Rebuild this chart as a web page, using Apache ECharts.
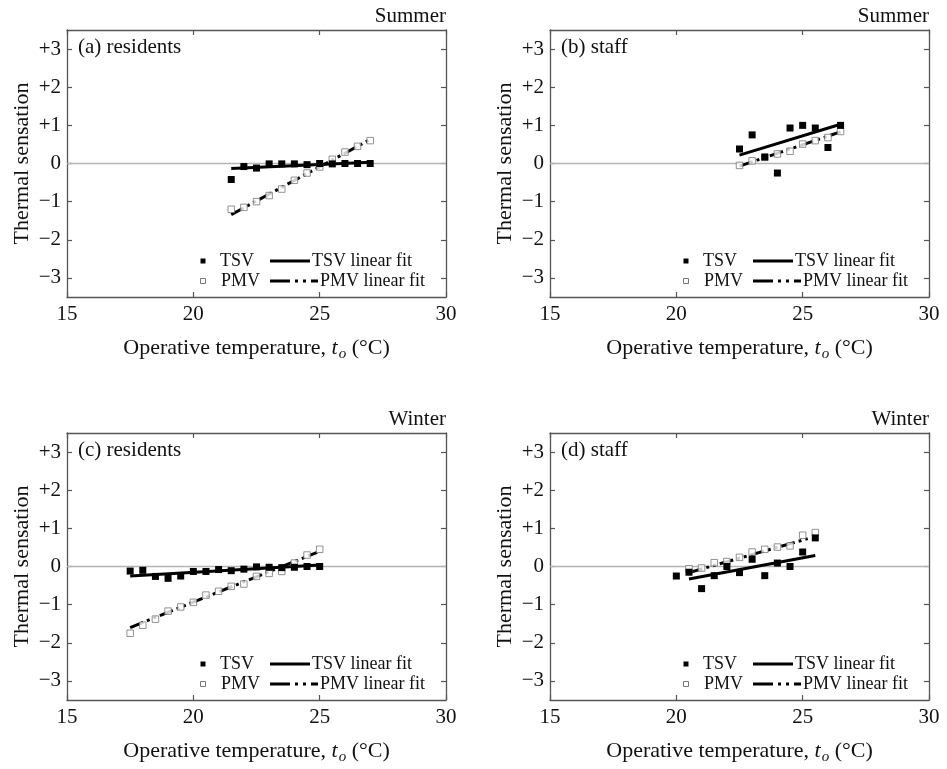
<!DOCTYPE html>
<html>
<head>
<meta charset="utf-8">
<script src="https://cdn.jsdelivr.net/npm/echarts@6/dist/echarts.min.js"></script>
<style>
  html, body { margin: 0; padding: 0; background: #fff; }
  #chart { width: 947px; height: 769px; }
</style>
</head>
<body>
<div id="chart"></div>
<script>
// ---- (a) residents, summer ----
const tempsA = [21.5, 22, 22.5, 23, 23.5, 24, 24.5, 25, 25.5, 26, 26.5, 27];
const tsvA = [-0.42, -0.08, -0.12, -0.01, -0.01, -0.01, -0.03, 0.0, -0.01, 0.0, 0.0, 0.0];
const pmvTempsA = [21.5, 22, 22.5, 23, 23.5, 24, 24.5, 25, 25.5, 26, 26.5, 27];
const pmvA = [-1.2, -1.15, -1.0, -0.84, -0.67, -0.44, -0.25, -0.09, 0.11, 0.30, 0.45, 0.60];
const tsvFitA = [[21.5, -0.13], [27, 0.03]];
const pmvFitA = [[21.5, -1.34], [27, 0.63]];

// ---- (b) staff, summer ----
const tempsB = [22.5, 23, 23.5, 24, 24.5, 25, 25.5, 26, 26.5];
const tsvB = [0.38, 0.75, 0.17, -0.25, 0.93, 1.0, 0.93, 0.42, 1.0];
const pmvTempsB = [22.5, 23, 23.5, 24, 24.5, 25, 25.5, 26, 26.5];
const pmvB = [-0.05, 0.07, 0.16, 0.25, 0.32, 0.51, 0.60, 0.68, 0.84];
const tsvFitB = [[22.5, 0.22], [26.5, 1.03]];
const pmvFitB = [[22.5, -0.07], [26.5, 0.83]];

// ---- (c) residents, winter ----
const tempsC = [17.5, 18, 18.5, 19, 19.5, 20, 20.5, 21, 21.5, 22, 22.5, 23, 23.5, 24, 24.5, 25];
const tsvC = [-0.12, -0.10, -0.26, -0.31, -0.25, -0.13, -0.13, -0.08, -0.11, -0.07, -0.01, -0.02, -0.03, -0.02, 0.0, 0.0];
const pmvTempsC = [17.5, 18, 18.5, 19, 19.5, 20, 20.5, 21, 21.5, 22, 22.5, 23, 23.5, 24, 24.5, 25];
const pmvC = [-1.75, -1.54, -1.38, -1.17, -1.06, -0.94, -0.75, -0.65, -0.52, -0.46, -0.26, -0.18, -0.13, 0.09, 0.30, 0.45];
const tsvFitC = [[17.5, -0.25], [25, 0.04]];
const pmvFitC = [[17.5, -1.6], [24.9, 0.37]];

// ---- (d) staff, winter ----
const tempsD = [20, 20.5, 21, 21.5, 22, 22.5, 23, 23.5, 24, 24.5, 25, 25.5];
const tsvD = [-0.25, -0.15, -0.58, -0.24, 0.0, -0.16, 0.19, -0.24, 0.09, 0.0, 0.38, 0.75];
const pmvTempsD = [20.5, 21, 21.5, 22, 22.5, 23, 23.5, 24, 24.5, 25, 25.5];
const pmvD = [-0.06, -0.04, 0.10, 0.13, 0.24, 0.38, 0.45, 0.51, 0.54, 0.82, 0.89];
const tsvFitD = [[20.5, -0.33], [25.5, 0.29]];
const pmvFitD = [[20.5, -0.16], [25.2, 0.73]];

// ---- axes ----
const xTicks = [15, 20, 25, 30];
const yTicks = [-3, -2, -1, 0, 1, 2, 3];

const panelLabels = ['(a) residents', '(b) staff', '(c) residents', '(d) staff'];
const seasons = ['Summer', 'Summer', 'Winter', 'Winter'];
const legendNames = ['TSV', 'PMV', 'TSV linear fit', 'PMV linear fit'];

const panels = [
  { temps: tempsA, tsv: tsvA, pmvTemps: pmvTempsA, pmv: pmvA, tsvFit: tsvFitA, pmvFit: pmvFitA },
  { temps: tempsB, tsv: tsvB, pmvTemps: pmvTempsB, pmv: pmvB, tsvFit: tsvFitB, pmvFit: pmvFitB },
  { temps: tempsC, tsv: tsvC, pmvTemps: pmvTempsC, pmv: pmvC, tsvFit: tsvFitC, pmvFit: pmvFitC },
  { temps: tempsD, tsv: tsvD, pmvTemps: pmvTempsD, pmv: pmvD, tsvFit: tsvFitD, pmvFit: pmvFitD }
];

const FONT = '"Liberation Serif", "Times New Roman", serif';
const FRAME = '#555';
const PW = 379, PH = 267;
const boxes = [
  { left: 67, top: 30 }, { left: 550, top: 30 },
  { left: 67, top: 433 }, { left: 550, top: 433 }
];
const DASH_DOT_DOT = [14, 4, 3, 4, 3, 4];

const zip = (xs, ys) => xs.map((x, i) => [x, ys[i]]);
const fmtY = v => v > 0 ? '+' + v : (v < 0 ? '\u2212' + Math.abs(v) : '0');

const grid = [], xAxis = [], yAxis = [], series = [], title = [], graphic = [];

boxes.forEach((b, i) => {
  grid.push({ left: b.left, top: b.top, width: PW, height: PH, containLabel: false });

  const lineCommon = { show: true, onZero: false, lineStyle: { color: FRAME, width: 1.3 } };
  const tickCommon = { show: true, inside: true, length: 5, lineStyle: { color: FRAME, width: 1.2 } };

  xAxis.push({
    type: 'value', gridIndex: i, position: 'bottom', min: 15, max: 30, interval: 5,
    axisLine: lineCommon, axisTick: tickCommon, splitLine: { show: false },
    axisLabel: { margin: 7, fontSize: 21, color: '#111', fontFamily: FONT },
    name: '{n|Operative temperature, }{i|t}{s|o}{n| (\u00b0C)}',
    nameLocation: 'middle', nameGap: 38,
    nameTextStyle: {
      color: '#111', fontFamily: FONT, fontSize: 22,
      rich: {
        n: { fontFamily: FONT, fontSize: 22, color: '#111' },
        i: { fontFamily: FONT, fontSize: 22, fontStyle: 'italic', color: '#111' },
        s: { fontFamily: FONT, fontSize: 15, fontStyle: 'italic', color: '#111', padding: [12, 0, 0, 1] }
      }
    }
  });
  xAxis.push({
    type: 'value', gridIndex: i, position: 'top', min: 15, max: 30, interval: 5,
    axisLine: lineCommon, axisTick: tickCommon, splitLine: { show: false },
    axisLabel: { show: false }
  });

  yAxis.push({
    type: 'value', gridIndex: i, position: 'left', min: -3.5, max: 3.5,
    axisLine: lineCommon,
    axisTick: Object.assign({ customValues: yTicks }, tickCommon),
    splitLine: { show: false },
    axisLabel: { customValues: yTicks, margin: 6, fontSize: 21, color: '#111', fontFamily: FONT, formatter: fmtY },
    name: 'Thermal sensation', nameLocation: 'middle', nameGap: 34, nameRotate: 90,
    nameTextStyle: { color: '#111', fontFamily: FONT, fontSize: 22 }
  });
  yAxis.push({
    type: 'value', gridIndex: i, position: 'right', min: -3.5, max: 3.5,
    axisLine: lineCommon,
    axisTick: Object.assign({ customValues: yTicks }, tickCommon),
    splitLine: { show: false },
    axisLabel: { show: false }
  });

  const p = panels[i];
  const xi = i * 2, yi = i * 2;

  series.push({
    name: 'TSV linear fit', type: 'line', xAxisIndex: xi, yAxisIndex: yi,
    data: p.tsvFit, symbol: 'none', z: 2,
    lineStyle: { color: '#000', width: 3 },
    markLine: {
      silent: true, symbol: 'none', label: { show: false },
      lineStyle: { color: '#b4b4b4', width: 1.4, type: 'solid' },
      data: [{ yAxis: 0 }], z: 1
    }
  });
  series.push({
    name: 'PMV linear fit', type: 'line', xAxisIndex: xi, yAxisIndex: yi,
    data: p.pmvFit, symbol: 'none', z: 2,
    lineStyle: { color: '#000', width: 3, type: DASH_DOT_DOT }
  });
  series.push({
    name: 'PMV', type: 'scatter', xAxisIndex: xi, yAxisIndex: yi,
    data: zip(p.pmvTemps, p.pmv), symbol: 'rect', symbolSize: 6.5, z: 3,
    itemStyle: { color: '#fff', borderColor: '#777', borderWidth: 1 }
  });
  series.push({
    name: 'TSV', type: 'scatter', xAxisIndex: xi, yAxisIndex: yi,
    data: zip(p.temps, p.tsv), symbol: 'rect', symbolSize: 7, z: 4,
    itemStyle: { color: '#000', opacity: 1 }
  });

  // season tag above the top-right corner, panel tag inside the top-left corner
  title.push({
    text: seasons[i], right: 947 - (b.left + PW), top: b.top - 24, padding: 0,
    textStyle: { fontFamily: FONT, fontSize: 21, fontWeight: 'normal', color: '#111' }
  });
  title.push({
    text: panelLabels[i], left: b.left + 11, top: b.top + 7, padding: 0,
    textStyle: { fontFamily: FONT, fontSize: 21, fontWeight: 'normal', color: '#111' }
  });

  // key: two rows, marker + name, line sample + name
  const r1 = b.top + 231, r2 = b.top + 251, x0 = b.left;
  const txt = (t, x, y) => ({
    type: 'text', silent: true,
    style: { text: t, x: x, y: y, font: '18px ' + FONT, fill: '#111', verticalAlign: 'middle', align: 'left' }
  });
  graphic.push({ type: 'rect', silent: true, shape: { x: x0 + 133.5, y: r1 - 2.5, width: 5, height: 5 }, style: { fill: '#000' } });
  graphic.push(txt(legendNames[0], x0 + 153, r1));
  graphic.push({ type: 'line', silent: true, shape: { x1: x0 + 203, y1: r1, x2: x0 + 243, y2: r1 }, style: { stroke: '#000', lineWidth: 3 } });
  graphic.push(txt(legendNames[2], x0 + 245, r1));
  graphic.push({ type: 'rect', silent: true, shape: { x: x0 + 133.5, y: r2 - 2.5, width: 5, height: 5 }, style: { fill: '#fff', stroke: '#777', lineWidth: 1 } });
  graphic.push(txt(legendNames[1], x0 + 154, r2));
  graphic.push({ type: 'line', silent: true, shape: { x1: x0 + 203, y1: r2, x2: x0 + 251, y2: r2 }, style: { stroke: '#000', lineWidth: 3, lineDash: [20, 5, 3, 5, 3, 5] } });
  graphic.push(txt(legendNames[3], x0 + 253, r2));
});

const chart = echarts.init(document.getElementById('chart'), null, { renderer: 'canvas' });
chart.setOption({
  backgroundColor: '#fff',
  animation: false,
  title, grid, xAxis, yAxis, series, graphic
});
</script>
</body>
</html>
